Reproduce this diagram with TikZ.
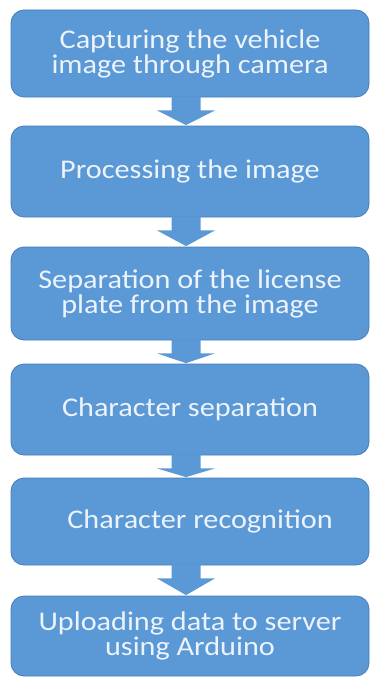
\documentclass[tikz,border=0pt]{standalone}
\usepackage{fontspec}
\setmainfont{Carlito}[FakeStretch=1.12]
\usetikzlibrary{positioning}

\definecolor{stepblue}{RGB}{90,152,214}
\definecolor{stepedge}{RGB}{70,125,185}
\definecolor{steptext}{RGB}{236,243,250}

\tikzset{
  stepbox/.style={
    draw=stepedge, line width=0.8pt, fill=stepblue,
    rounded corners=13pt, minimum width=358pt,
    inner sep=0pt, align=center, text=steptext,
    font=\fontsize{27}{25}\selectfont
  },
  flowfill/.style={fill=stepblue, draw=none}
}

% block arrow from the bottom of #1 down to the top of #2
\newcommand\blockarrow[2]{%
  \fill[flowfill]
    ([xshift=-18.5pt,yshift=1pt]#1.south) --
    ([xshift=-18.5pt,yshift=-13pt]#1.south) --
    ([xshift=-33pt,yshift=-13pt]#1.south) --
    ([xshift=-4pt,yshift=0.5pt]#2.north) --
    ([xshift=25pt,yshift=-13pt]#1.south) --
    ([xshift=10.5pt,yshift=-13pt]#1.south) --
    ([xshift=10.5pt,yshift=1pt]#1.south) -- cycle;}

\begin{document}
\begin{tikzpicture}[x=1pt,y=1pt]
  \useasboundingbox (0,0) rectangle (372,-677);

  \node[stepbox, minimum height=87pt] (s1) at (190,-53.5)
    {Capturing the vehicle\\image through camera};
  \node[stepbox, minimum height=91pt] (s2) at (190,-171.5)
    {Processing the image};
  \node[stepbox, minimum height=93pt] (s3) at (190,-293.5)
    {Separation of the license\\plate from the image};
  \node[stepbox, minimum height=91pt] (s4) at (190,-409.5)
    {Character separation};
  \node[stepbox, minimum height=87pt] (s5) at (190,-521.5)
    {\hspace*{20pt}Character recognition};
  \node[stepbox, minimum height=80pt] (s6) at (190,-636)
    {Uploading data to server\\using Arduino};

  \blockarrow{s1}{s2}
  \blockarrow{s2}{s3}
  \blockarrow{s3}{s4}
  \blockarrow{s4}{s5}
  \blockarrow{s5}{s6}
\end{tikzpicture}
\end{document}
